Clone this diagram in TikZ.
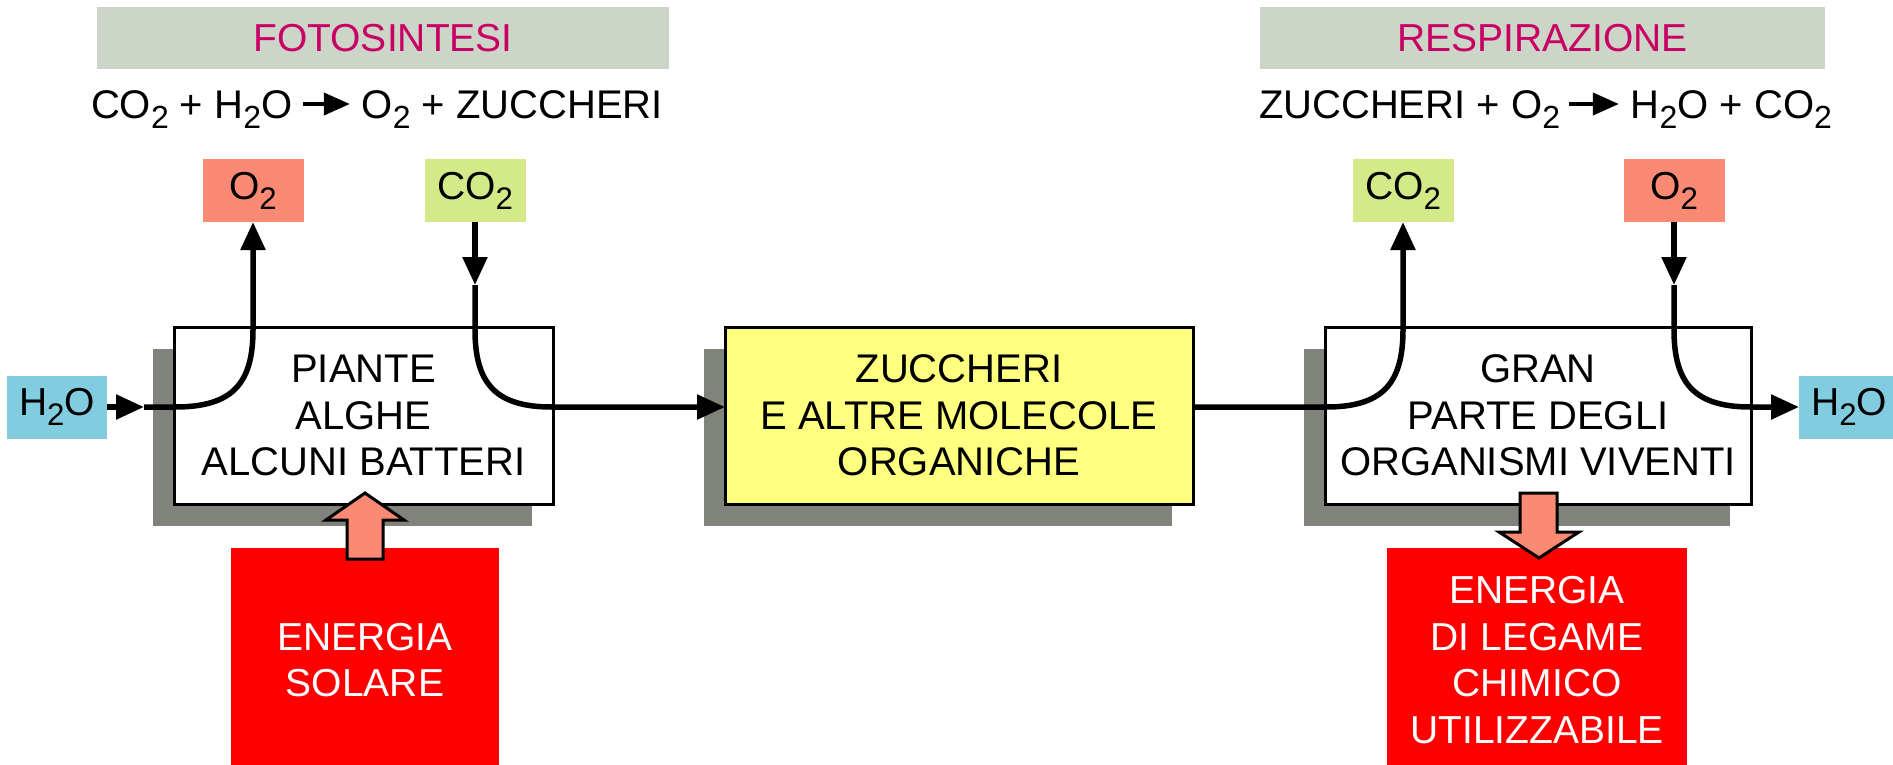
\documentclass[tikz,border=0pt]{standalone}
\usepackage{fontspec}
\setmainfont{Liberation Sans}
\usetikzlibrary{arrows.meta,shadows,calc}
\definecolor{bannerbg}{RGB}{205,212,200}
\definecolor{titlecol}{RGB}{200,0,100}
\definecolor{o2col}{RGB}{250,138,115}
\definecolor{co2col}{RGB}{212,234,136}
\definecolor{h2ocol}{RGB}{130,204,224}
\definecolor{yellowcol}{RGB}{255,255,128}
\definecolor{redcol}{RGB}{255,0,0}
\definecolor{shadowcol}{RGB}{128,130,124}
\newcommand\sbs[1]{\raisebox{-0.26em}{\scalebox{0.8}{#1}}}
\begin{document}
\begin{tikzpicture}[x=1pt,y=-1pt,
  every node/.style={inner sep=0pt, outer sep=0pt},
  banner/.style={fill=bannerbg, minimum height=62pt, text=titlecol, font=\fontsize{39}{46}\selectfont},
  eqtext/.style={font=\fontsize{40}{46}\selectfont},
  eqarrow/.style={line width=4pt, -{Triangle[length=26pt,width=22pt]}},
  smallbox/.style={minimum width=101pt, minimum height=63pt, font=\fontsize{39}{46}\selectfont},
  mainbox/.style={draw, line width=3pt, minimum height=177pt, align=center,
    font=\fontsize{40}{46.5}\selectfont,
    drop shadow={shadow xshift=-21pt, shadow yshift=-22pt, fill=shadowcol, opacity=1}},
  redbox/.style={fill=redcol, text=white, minimum height=224pt, align=center,
    font=\fontsize{39}{46.5}\selectfont},
  flow/.style={line width=5.5pt},
  tip/.style={-{Triangle[length=28pt,width=24pt]}},
  fat/.style={fill=o2col, draw, line width=3pt, line join=miter}
]
\path[use as bounding box] (0,0) rectangle (1893,764);

% banners
\node[banner, minimum width=572pt] (ban1) at (383,38) {FOTOSINTESI};
\node[banner, minimum width=565pt] (ban2) at (1542.5,38) {RESPIRAZIONE};

% equations
\node[eqtext, anchor=base west] (eq1a) at (91,118) {CO\sbs{2} + H\sbs{2}O};
\node[eqtext, anchor=base east] (eq1b) at (663,118) {O\sbs{2} + ZUCCHERI};
\coordinate (eq1s) at ($(eq1a.base east)+(11,-14)$);
\coordinate (eq1e) at ($(eq1b.base west)+(-12,-14)$);
\draw[eqarrow] (eq1s) -- (eq1e);

\node[eqtext, anchor=base west] (eq2a) at (1259,118) {ZUCCHERI + O\sbs{2}};
\node[eqtext, anchor=base east] (eq2b) at (1832,118) {H\sbs{2}O + CO\sbs{2}};
\coordinate (eq2s) at ($(eq2a.base east)+(9,-14)$);
\coordinate (eq2e) at ($(eq2b.base west)+(-12,-14)$);
\draw[eqarrow] (eq2s) -- (eq2e);

% small boxes
\node[smallbox, fill=o2col] (o2L) at (253,190.5) {O\sbs{2}};
\node[smallbox, fill=co2col] (co2L) at (475,190.5) {CO\sbs{2}};
\node[smallbox, fill=co2col] (co2R) at (1403,190.5) {CO\sbs{2}};
\node[smallbox, fill=o2col] (o2R) at (1674,190.5) {O\sbs{2}};
\node[smallbox, fill=h2ocol, minimum width=100pt] (h2oL) at (57,407) {H\sbs{2}O};
\node[smallbox, fill=h2ocol, minimum width=100pt] (h2oR) at (1849,407) {H\sbs{2}O};

% main boxes
\node[mainbox, fill=white, minimum width=379pt] (piante) at (363.5,415.5) {PIANTE\\ALGHE\\ALCUNI BATTERI};
\node[mainbox, fill=yellowcol, minimum width=468pt] (zucc) at (959,415.5) {ZUCCHERI\\E ALTRE MOLECOLE\\ORGANICHE};
\node[mainbox, fill=white, minimum width=426pt] (gran) at (1538,415.5) {GRAN\\PARTE DEGLI\\ORGANISMI VIVENTI};

% energy boxes
\node[redbox, minimum width=268pt] (solare) at (365,660) {ENERGIA\\SOLARE};
\node[redbox, minimum width=300pt] (legame) at (1537,660) {ENERGIA\\DI LEGAME\\CHIMICO\\UTILIZZABILE};

% connectors
\coordinate (j1) at (144,407);
\coordinate (zin) at (zucc.west |- j1);
\coordinate (zout) at (zucc.east |- j1);
\draw[flow, tip] (h2oL.east) -- (j1);
\draw[flow, tip] (j1) -- (175,407) .. controls (231,407) and (253,385) .. (253,330) -- (o2L.south);

\coordinate (c1) at (475,285);
\draw[flow, tip] (co2L.south) -- (c1);
\draw[flow, tip] (c1) -- (475,330) .. controls (475,385) and (497,407) .. (552,407) -- (zin);

\draw[flow, tip] (zout) -- (1326,407) .. controls (1381,407) and (1403,385) .. (1403,330) -- (co2R.south);

\coordinate (c2) at (1674,285);
\draw[flow, tip] (o2R.south) -- (c2);
\draw[flow, tip] (c2) -- (1674,330) .. controls (1674,385) and (1696,407) .. (1751,407) -- (h2oR.west);

% fat arrows
\draw[fat] (347,559) -- (347,520) -- (326,520) -- (365,493) -- (404,520) -- (383,520) -- (383,559) -- cycle;
\draw[fat] (1520,493) -- (1520,532) -- (1499,532) -- (1539,558) -- (1579,532) -- (1557,532) -- (1557,493) -- cycle;
\end{tikzpicture}
\end{document}
